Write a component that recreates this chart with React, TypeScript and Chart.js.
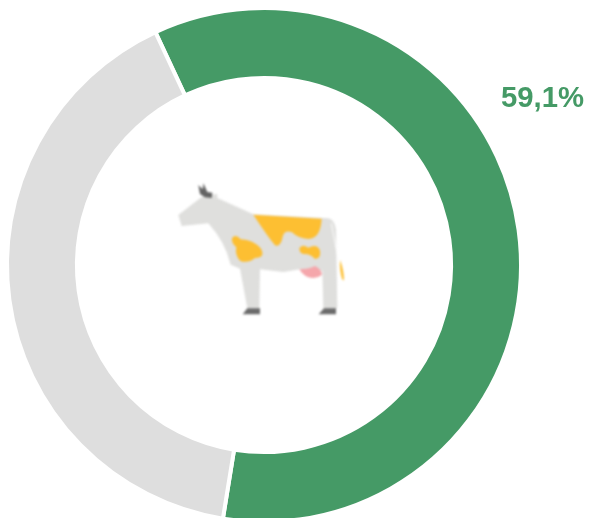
import React, { useEffect, useRef } from "react";
import { Chart, registerables } from "chart.js";

Chart.register(...registerables);

const categories = ["Share", "Rest"];
const values = [59.5, 40.5];
const colours = ["#459a66", "#dedede"];
const valueLabel = "59,1%";

export default function App() {
  const ref = useRef<HTMLCanvasElement | null>(null);
  useEffect(() => {
    const chart = new Chart(ref.current!, {
      type: "doughnut",
      data: {
        labels: categories,
        datasets: [{ data: values, backgroundColor: colours, borderColor: "#ffffff", borderWidth: 4 }],
      },
      options: {
        responsive: false,
        animation: false,
        cutout: "72.8%",
        rotation: -25,
        layout: { padding: 5 },
        plugins: { legend: { display: false }, tooltip: { enabled: false } },
      },
    });
    return () => chart.destroy();
  }, []);
  return (
    <div style={{ position: "fixed", left: 0, top: 0, width: 590, height: 518, overflow: "hidden", background: "#fff" }}>
      <canvas ref={ref} width={528} height={530} style={{ position: "absolute", left: 0, top: 0 }} />
      <svg
        viewBox="0 0 600 480"
        width={200}
        height={160}
        style={{ position: "absolute", left: 160, top: 170, filter: "blur(0.8px)" }}
      >
        <path d="M55 135 L120 85 L135 76 L172 72 L172 84 L280 133 L505 145 Q525 150 528 180 L532 415 L490 415 L487 302 L420 298 L370 306 L300 298 L298 415 L262 415 L240 296 L212 284 Q195 215 145 160 L65 168 Z" fill="#dfdfdd" />
        <path d="M280 134 L485 146 Q482 205 445 207 Q415 205 395 186 Q372 180 368 200 Q362 232 345 226 Q320 195 280 134 Z" fill="#fdbf32" />
        <path d="M216 205 Q226 190 242 208 Q280 210 302 235 Q318 264 285 264 Q262 282 240 272 Q224 255 229 232 Q213 218 216 205 Z" fill="#fdbf32" />
        <path d="M418 235 Q426 220 445 233 Q472 220 480 242 Q484 264 465 267 Q450 250 430 252 Q418 250 418 235 Z" fill="#fdbf32" />
        <path d="M418 298 Q445 298 465 288 Q488 300 485 315 Q470 328 445 322 Q428 315 418 298 Z" fill="#f5a6ab" />
        <path d="M540 270 Q552 300 552 332 L546 326 Q538 300 540 270 Z" fill="#fdbf32" />
        <path d="M514 160 L535 270" stroke="#ffffff" strokeWidth="3" fill="none" />
        <path d="M248 433 L262 415 L300 415 L300 433 Z M476 433 L492 415 L528 415 L528 433 Z" fill="#6b6b6b" />
        <path d="M115 45 L128 58 L130 40 L142 66 L157 68 L155 84 L135 82 L120 72 Z" fill="#636363" />
      </svg>
      <div
        style={{
          position: "absolute",
          left: 501,
          top: 79,
          fontFamily: '"Liberation Sans", Arial, sans-serif',
          fontWeight: 700,
          fontSize: 29.3,
          lineHeight: "35px",
          color: "#459a66",
          whiteSpace: "nowrap",
        }}
      >
        {valueLabel}
      </div>
    </div>
  );
}
